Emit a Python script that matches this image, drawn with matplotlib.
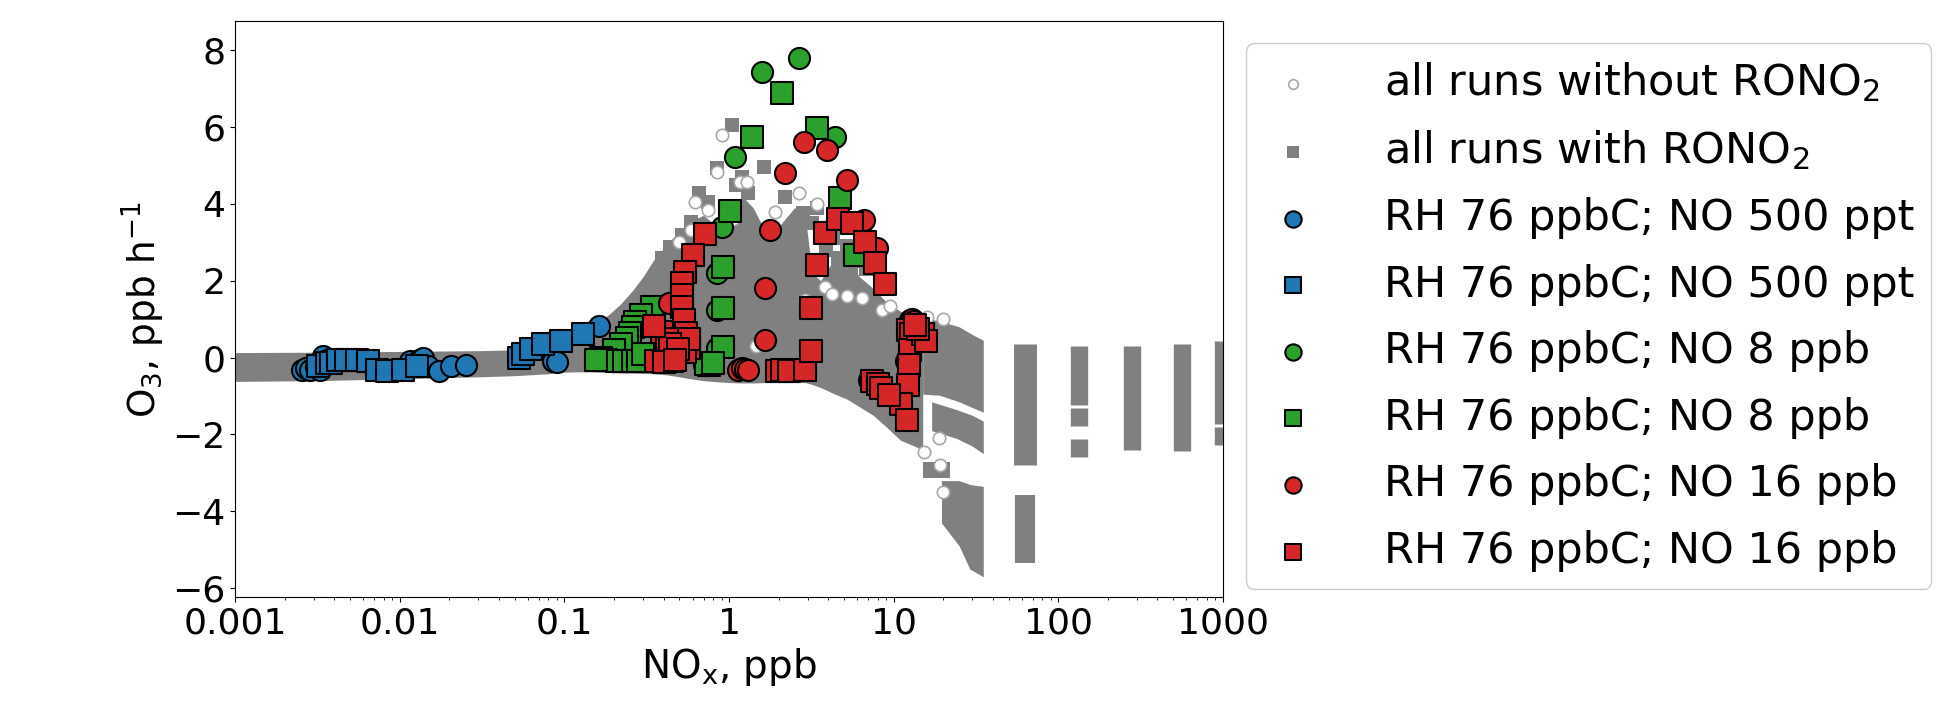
import numpy as np
import matplotlib
matplotlib.use('Agg')
import matplotlib.pyplot as plt
from matplotlib.ticker import FixedLocator, FixedFormatter

# dense cloud of all model runs (envelopes)
body_x = [0.001, 0.003, 0.01, 0.03, 0.05, 0.08, 0.1, 0.12, 0.14, 0.165, 0.19, 0.22, 0.26, 0.3,
          0.35, 0.42, 0.5, 0.58, 0.7, 0.85, 1.0, 1.2, 1.4, 1.7, 2.0, 2.5, 2.9, 3.2, 3.6, 4.4,
          5.2, 6.2, 7.5, 9.0, 11.0, 13.0, 15.0]
body_top = [0.13, 0.14, 0.16, 0.18, 0.2, 0.28, 0.35, 0.5, 0.7, 0.95, 1.15, 1.4, 1.75, 2.1,
            2.55, 2.95, 3.3, 3.55, 3.7, 3.4, 3.6, 4.2, 3.9, 3.2, 3.4, 3.9, 3.7, 2.2, 2.0, 2.6,
            2.6, 2.1, 1.8, 1.45, 1.2, 1.1, 1.05]
body_bot = [-0.62, -0.6, -0.55, -0.5, -0.47, -0.42, -0.38, -0.37, -0.37, -0.38, -0.39, -0.4,
            -0.4, -0.41, -0.42, -0.45, -0.5, -0.55, -0.6, -0.63, -0.65, -0.66, -0.66, -0.65,
            -0.65, -0.65, -0.65, -0.7, -0.78, -0.95, -1.08, -1.28, -1.5, -1.8, -2.15, -2.28, -2.4]

block_x = [15.0, 19.0, 25.0, 30.0, 35.0]
block_top = [1.05, 0.95, 0.8, 0.6, 0.45]
block_bot = [-0.95, -0.98, -1.15, -1.3, -1.42]

branch_x = [17.0, 24.0, 30.0, 35.0]
branch_top = [-1.15, -1.35, -1.5, -1.65]
branch_bot = [-1.9, -2.1, -2.3, -2.5]

step_x = [15.0, 22.0]
step_top = [-2.72, -2.72]
step_bot = [-3.13, -3.13]

tail_x = [19.5, 25.0, 29.0, 35.0]
tail_top = [-3.2, -3.2, -3.3, -3.35]
tail_bot = [-4.3, -4.9, -5.5, -5.7]

# high-NOx runs stack up in narrow columns
col_x = [63, 63, 134, 134, 134, 279, 562, 1000, 1000]
col_top = [0.36, -3.58, 0.31, -1.32, -2.12, 0.31, 0.36, 0.44, -1.81]
col_bot = [-2.8, -5.34, -1.24, -1.79, -2.59, -2.41, -2.44, -1.73, -2.28]
col_w = [16.5, 14.5, 12.5, 12.5, 12.5, 12.5, 12.5, 12.5, 12.5]

# loose gray points at the edge of the cloud
with_x = [1.04, 1.63, 0.84, 2.2, 0.66, 2.8, 1.3, 0.59, 0.44, 0.39, 3.4, 3.2, 4.6, 5.5, 5.0,
          2.4, 0.52, 1.1, 0.75, 4.3, 6.0, 2.6, 1.2, 3.9, 5.2, 6.8]
with_y = [6.04, 4.95, 4.92, 4.17, 4.27, 3.76, 4.27, 3.52, 2.88, 2.59, 3.9, 3.5, 2.6, 2.2, 1.9,
          2.5, 3.2, 4.5, 4.05, 3.1, 2.5, 2.0, 4.7, 2.8, 2.9, 2.3]
without_x = [0.91, 0.84, 1.17, 1.28, 0.62, 1.9, 2.66, 3.4, 3.8, 8.5, 6.4, 0.75, 0.59, 18.9,
             15.3, 20.0, 19.0, 5.2, 4.2, 1.05, 13.0, 16.0, 20.0, 1.45, 2.9, 0.5, 9.5]
without_y = [5.78, 4.82, 4.56, 4.56, 4.04, 3.78, 4.27, 4.0, 1.84, 1.24, 1.55, 3.83, 3.32, -2.1,
             -2.46, -3.5, -2.8, 1.6, 1.65, 3.6, 1.1, 1.05, 1.0, 0.3, 1.5, 3.0, 1.35]

# RH 76 ppbC; NO 500 ppt
blue_ci_x = [0.00256, 0.0027, 0.00286, 0.0031, 0.0033, 0.0034, 0.0036, 0.0115, 0.0131, 0.0138,
             0.0148, 0.0173, 0.0205, 0.0253, 0.085, 0.09, 0.162]
blue_ci_y = [-0.31, -0.28, -0.31, -0.25, -0.31, 0.03, -0.05, -0.1, -0.05, 0.0, -0.23, -0.36,
             -0.23, -0.18, -0.08, -0.12, 0.83]
blue_sq_x = [0.0032, 0.0036, 0.0038, 0.0042, 0.0047, 0.0055, 0.0064, 0.0073, 0.0084, 0.0104,
             0.0128, 0.053, 0.056, 0.063, 0.074, 0.095, 0.13]
blue_sq_y = [-0.23, -0.15, -0.13, -0.05, -0.05, -0.05, -0.1, -0.31, -0.36, -0.31, -0.23, 0.0,
             0.1, 0.23, 0.36, 0.44, 0.62]

# RH 76 ppbC; NO 8 ppb
green_ci_x = [1.59, 2.66, 1.09, 4.39, 0.91, 0.84, 0.84, 0.17, 0.2, 0.25, 0.3, 0.7, 0.84]
green_ci_y = [7.44, 7.8, 5.21, 5.73, 3.39, 2.2, 1.24, -0.05, -0.1, -0.05, 0.0, -0.2, 0.25]
green_sq_x = [2.1, 1.37, 3.4, 1.02, 0.92, 0.92, 0.92, 4.7, 5.8, 0.76, 0.72, 0.8, 0.34, 0.29,
              0.27, 0.26, 0.25, 0.24, 0.22, 0.2, 0.166, 0.18, 0.21, 0.23, 0.26, 0.28, 0.3, 0.155]
green_sq_y = [6.89, 5.73, 5.96, 3.81, 2.36, 1.3, 0.28, 4.14, 2.67, -0.18, -0.16, -0.15, 1.32,
              1.1, 0.93, 0.8, 0.65, 0.5, 0.35, 0.2, 0.0, -0.05, -0.08, -0.1, -0.1, -0.08, 0.1, -0.05]

# RH 76 ppbC; NO 16 ppb
red_ci_x = [2.86, 3.95, 2.18, 5.2, 1.78, 1.66, 1.66, 1.14, 1.2, 1.25, 1.3, 6.6, 7.9, 12.6,
            13.0, 13.3, 12.8, 7.1, 0.43, 0.52, 11.8]
red_ci_y = [5.6, 5.41, 4.79, 4.61, 3.32, 1.81, 0.47, -0.31, -0.28, -0.3, -0.33, 3.57, 2.85,
            0.98, 1.0, 0.95, 0.85, -0.57, 1.42, 1.3, -0.1]
red_sq_x = [0.71, 0.6, 0.54, 0.52, 0.52, 0.52, 0.53, 0.55, 0.57, 0.36, 0.45, 0.54, 0.57, 0.39,
            0.42, 0.44, 0.49, 0.35, 0.4, 0.47, 1.96, 2.1, 2.3, 2.9, 3.16, 3.16, 3.4, 3.8, 4.6,
            5.6, 6.7, 7.7, 8.8, 12.3, 12.7, 12.6, 12.4, 12.3, 11.1, 12.0, 7.4, 8.0, 8.4, 9.3,
            15.0, 15.7, 14.0, 13.5]
red_sq_y = [3.21, 2.67, 2.23, 1.94, 1.63, 1.32, 0.98, 0.65, 0.26, -0.08, -0.1, 0.15, 0.49,
            0.67, 0.49, 0.36, 0.23, 0.83, -0.12, -0.05, -0.36, -0.33, -0.36, -0.31, 1.3, 0.16,
            2.41, 3.24, 3.6, 3.5, 3.0, 2.46, 1.92, 0.73, 0.62, 0.2, -0.18, -0.7, -1.22, -1.63,
            -0.62, -0.68, -0.78, -0.96, 0.62, 0.44, 0.75, 0.85]

xticks = [0.001, 0.01, 0.1, 1, 10, 100, 1000]
xtick_labels = ['0.001', '0.01', '0.1', '1', '10', '100', '1000']
yticks = [-6, -4, -2, 0, 2, 4, 6, 8]

gray = '#808080'
fig = plt.figure(figsize=(19.59, 7.05), dpi=100)
ax = fig.add_axes([0.12, 0.153, 0.5043, 0.817])
ax.set_xscale('log')

for xs, top, bot in [(body_x, body_top, body_bot), (block_x, block_top, block_bot),
                     (branch_x, branch_top, branch_bot), (step_x, step_top, step_bot),
                     (tail_x, tail_top, tail_bot)]:
    ax.fill_between(xs, bot, top, color=gray, lw=0, zorder=1)
ax.vlines(col_x, col_bot, col_top, colors=gray, linewidths=col_w, zorder=1)

h_with = ax.scatter(with_x, with_y, s=105, marker='s', c=gray, lw=0, zorder=2,
                    label='all runs with RONO$_2$')
h_without = ax.scatter(without_x, without_y, s=80, marker='o', facecolors='white',
                       edgecolors='#a8a8a8', lw=1.2, zorder=3,
                       label='all runs without RONO$_2$')

kw = dict(s=230, edgecolors='black', linewidths=1.5, zorder=4)
h1 = ax.scatter(blue_ci_x, blue_ci_y, marker='o', c='tab:blue', label='RH 76 ppbC; NO 500 ppt', **kw)
h2 = ax.scatter(blue_sq_x, blue_sq_y, marker='s', c='tab:blue', label='RH 76 ppbC; NO 500 ppt', **kw)
h3 = ax.scatter(green_ci_x, green_ci_y, marker='o', c='tab:green', label='RH 76 ppbC; NO 8 ppb', **kw)
h4 = ax.scatter(green_sq_x, green_sq_y, marker='s', c='tab:green', label='RH 76 ppbC; NO 8 ppb', **kw)
h5 = ax.scatter(red_ci_x, red_ci_y, marker='o', c='tab:red', label='RH 76 ppbC; NO 16 ppb', **kw)
h6 = ax.scatter(red_sq_x, red_sq_y, marker='s', c='tab:red', label='RH 76 ppbC; NO 16 ppb', **kw)

ax.set_xlim(0.001, 1000)
ax.set_ylim(-6.23, 8.75)
ax.xaxis.set_major_locator(FixedLocator(xticks))
ax.xaxis.set_major_formatter(FixedFormatter(xtick_labels))
ax.set_yticks(yticks)
ax.set_yticklabels([str(v).replace('-', '\u2212') for v in yticks])
ax.tick_params(labelsize=26)
ax.set_xlabel('NO$_\\mathregular{x}$, ppb', fontsize=28)
ax.set_ylabel('O$_3$, ppb h$^{-1}$', fontsize=27)

handles = [h_without, h_with, h1, h2, h3, h4, h5, h6]
leg = fig.legend(handles=handles, labels=[h.get_label() for h in handles],
                 loc='upper left', bbox_to_anchor=(1246 / 1959, 1 - 43 / 705),
                 borderaxespad=0, fontsize=31, framealpha=1, labelspacing=0.57,
                 handlelength=1.4, handletextpad=1.4)
for lh, s in zip(leg.legend_handles, [80, 105, 230, 230, 230, 230, 230, 230]):
    lh.set_sizes([s * 0.6])

fig.savefig('out.png', dpi=100)
